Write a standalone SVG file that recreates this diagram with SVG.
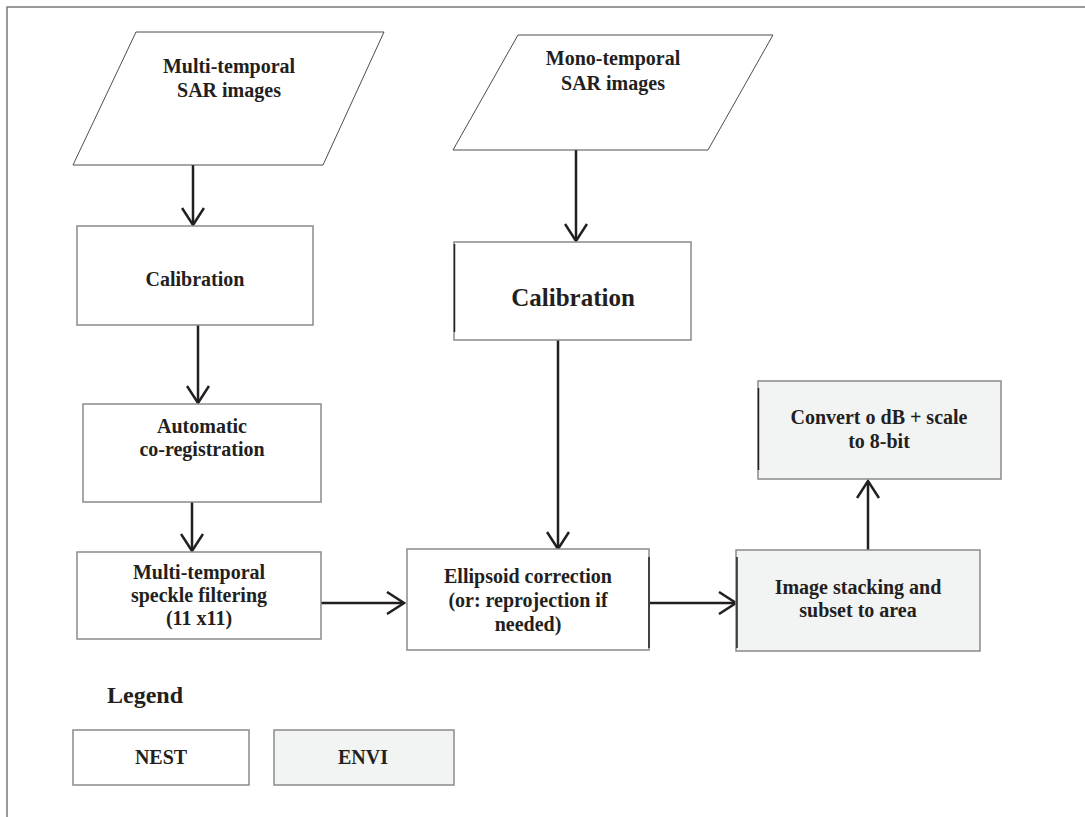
<svg xmlns="http://www.w3.org/2000/svg" width="1085" height="817" viewBox="0 0 1085 817">
<style>
.frame{stroke:#7a7a7a;stroke-width:1.5;fill:none}
.para{fill:#fff;stroke:#4d4d4d;stroke-width:1}
.nest{fill:#fff;stroke:#8a8a8a;stroke-width:1.5}
.envi{fill:#f2f3f3;stroke:#8a8a8a;stroke-width:1.5}
.edge{stroke:#231f20;stroke-width:2.5;fill:none}
.dark{stroke:#231f20;stroke-width:1.5}
text{font-family:"Liberation Serif","Times New Roman",serif;font-weight:bold;font-size:20px;fill:#231f20;text-anchor:middle}
.big{font-size:25px}
.leg{font-size:24px;text-anchor:start}
</style>
<defs>
<marker id="arr" markerUnits="userSpaceOnUse" viewBox="0 0 20 24" markerWidth="20" markerHeight="24" refX="18" refY="12" orient="auto">
<path d="M1,1 L18,12 L1,23" fill="none" stroke="#231f20" stroke-width="2.5"/>
</marker>
</defs>
<rect width="1085" height="817" fill="#fff"/>
<path class="frame" d="M7,817 L7,7 L1085,7"/>

<g id="connectors">
<line class="edge" x1="193" y1="165" x2="193" y2="225" marker-end="url(#arr)"/>
<line class="edge" x1="576" y1="150" x2="576" y2="241" marker-end="url(#arr)"/>
<line class="edge" x1="198" y1="325" x2="198" y2="403" marker-end="url(#arr)"/>
<line class="edge" x1="192" y1="502" x2="192" y2="551" marker-end="url(#arr)"/>
<line class="edge" x1="558" y1="340" x2="558" y2="549" marker-end="url(#arr)"/>
<line class="edge" x1="318" y1="603" x2="404" y2="603" marker-end="url(#arr)"/>
<line class="edge" x1="650" y1="603" x2="736" y2="603" marker-end="url(#arr)"/>
<line class="edge" x1="868" y1="550" x2="868" y2="481" marker-end="url(#arr)"/>
</g>

<g id="multi-sar">
<polygon class="para" points="136,32 384,32 323,165 73,165"/>
<text x="229" y="73">Multi-temporal</text>
<text x="229" y="97">SAR images</text>
</g>

<g id="mono-sar">
<polygon class="para" points="518,35 773,35 708,150 453,150"/>
<text x="613" y="65">Mono-temporal</text>
<text x="613" y="90">SAR images</text>
</g>

<g id="calibration1">
<rect class="nest" x="77" y="226" width="236" height="99"/>
<text x="195" y="286">Calibration</text>
</g>

<g id="calibration2">
<rect class="nest" x="454" y="242" width="237" height="98"/>
<line class="dark" x1="454.5" y1="244" x2="454.5" y2="332"/>
<text class="big" x="573" y="306">Calibration</text>
</g>

<g id="coregistration">
<rect class="nest" x="83" y="404" width="238" height="98"/>
<text x="202" y="433">Automatic</text>
<text x="202" y="456">co-registration</text>
</g>

<g id="speckle">
<rect class="nest" x="77" y="552" width="244" height="87"/>
<text x="199" y="579">Multi-temporal</text>
<text x="199" y="602">speckle filtering</text>
<text x="199" y="625">(11 x11)</text>
</g>

<g id="ellipsoid">
<rect class="nest" x="407" y="549" width="242" height="101"/>
<line class="dark" x1="649" y1="557" x2="649" y2="648"/>
<text x="528" y="583">Ellipsoid correction</text>
<text x="528" y="607">(or: reprojection if</text>
<text x="528" y="631">needed)</text>
</g>

<g id="stacking">
<rect class="envi" x="736" y="550" width="244" height="101"/>
<line class="dark" x1="737" y1="557" x2="737" y2="648"/>
<text x="858" y="594">Image stacking and</text>
<text x="858" y="617">subset to area</text>
</g>

<g id="convert">
<rect class="envi" x="758" y="381" width="243" height="98"/>
<line class="dark" x1="758.5" y1="388" x2="758.5" y2="470"/>
<text x="879" y="424">Convert o dB + scale</text>
<text x="879" y="448">to 8-bit</text>
</g>

<g id="legend">
<text class="leg" x="107" y="703">Legend</text>
<rect class="nest" x="73" y="730" width="176" height="55"/>
<text x="161" y="764">NEST</text>
<rect class="envi" x="274" y="730" width="180" height="55"/>
<text x="363" y="764">ENVI</text>
</g>
</svg>
